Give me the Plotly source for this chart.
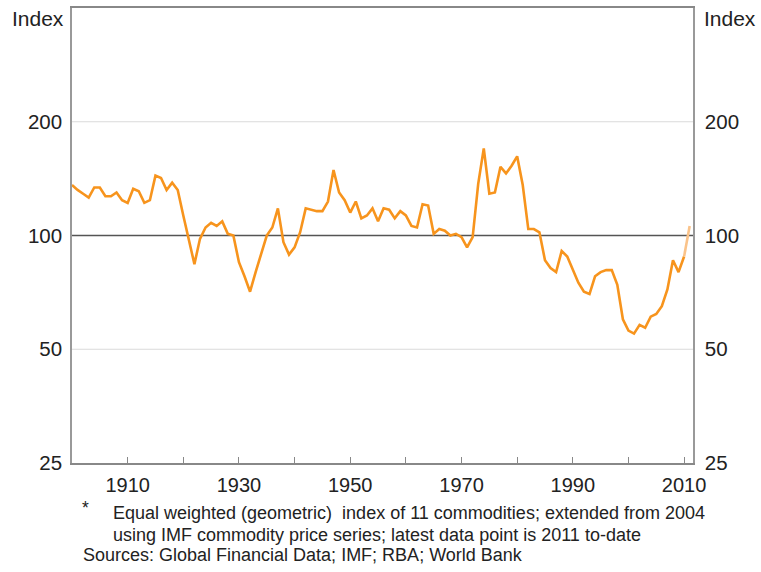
import math
import plotly.graph_objects as go

# annual commodity price index (1900 = start, latest point is 2011 to-date)
years = list(range(1900, 2012))
index_values = [
    136, 132, 129, 126, 134, 134, 127, 127, 130, 124,   # 1900s
    122, 133, 131, 122, 124, 144, 142, 132, 138, 132,   # 1910s
    113, 97, 84, 98, 105, 108, 106, 109, 101, 100,      # 1920s
    85, 78, 71, 80, 90, 100, 105, 118, 96, 89,          # 1930s
    93, 102, 118, 117, 116, 116, 123, 149, 130, 124,    # 1940s
    115, 123, 111, 113, 118, 109, 118, 117, 111, 116,   # 1950s
    113, 106, 105, 121, 120, 101, 104, 103, 100, 101,   # 1960s
    99, 93, 99, 137, 170, 129, 130, 152, 146, 153,      # 1970s
    162, 136, 104, 104, 102, 86, 82, 80, 91, 88,        # 1980s
    81, 75, 71, 70, 78, 80, 81, 81, 74, 60,             # 1990s
    56, 55, 58, 57, 61, 62, 65, 72, 86, 80,             # 2000s
    88, 106,                                            # 2010-2011
]

y_ticks = [25, 50, 100, 200]
grid_levels = [50, 200]
base_level = 100
x_ticks = list(range(1910, 2011, 10))
x_labels = [str(y) if (y - 1910) % 20 == 0 else "" for y in x_ticks]

footnote_1 = "Equal weighted (geometric)  index of 11 commodities; extended from 2004"
footnote_2 = "using IMF commodity price series; latest data point is 2011 to-date"
sources = "Sources: Global Financial Data; IMF; RBA; World Bank"

ORANGE = "#F7941D"
LIGHT_ORANGE = "#FAC38A"
FONT = "Liberation Sans, Arial, sans-serif"

fig = go.Figure()

# full history
fig.add_trace(go.Scatter(
    x=years[:-1], y=index_values[:-1],
    mode="lines", line=dict(color=ORANGE, width=2.6),
    hoverinfo="skip",
))
# latest (partial-year) segment in a lighter shade
fig.add_trace(go.Scatter(
    x=years[-2:], y=index_values[-2:],
    mode="lines", line=dict(color=LIGHT_ORANGE, width=2.6),
    hoverinfo="skip",
))
# invisible copy so the right-hand axis gets drawn
fig.add_trace(go.Scatter(
    x=years, y=index_values, yaxis="y2",
    mode="lines", line=dict(color="rgba(0,0,0,0)", width=0),
    hoverinfo="skip",
))

# horizontal gridlines (light) and the 100 base line (dark), under the series
for lvl in grid_levels:
    fig.add_hline(y=lvl, line=dict(color="#DADADA", width=1.2), layer="below")
fig.add_hline(y=base_level, line=dict(color="#555555", width=1.5), layer="below")

y_range = [math.log10(25), math.log10(400)]

fig.update_layout(
    width=761, height=572,
    margin=dict(l=72, r=68, t=6, b=109),
    paper_bgcolor="white", plot_bgcolor="white",
    showlegend=False,
    font=dict(family=FONT, size=20, color="#222222"),
    xaxis=dict(
        range=[1900, 2011.6],
        tickvals=x_ticks, ticktext=x_labels,
        ticks="inside", ticklen=6, tickcolor="#888888", tickwidth=1.2,
        showgrid=False, zeroline=False,
        showline=True, linecolor="#888888", linewidth=1.5, mirror=True,
        ticklabelstandoff=3,
        tickfont=dict(size=20),
    ),
    yaxis=dict(
        type="log", range=y_range,
        tickvals=y_ticks, ticktext=[str(v) for v in y_ticks],
        showgrid=False, zeroline=False,
        showline=True, linecolor="#999999", linewidth=1.5,
        ticks="", ticklabelstandoff=4,
        tickfont=dict(size=20.5),
    ),
    yaxis2=dict(
        type="log", range=y_range, overlaying="y", side="right",
        tickvals=y_ticks, ticktext=[str(v) for v in y_ticks],
        showgrid=False, zeroline=False,
        showline=True, linecolor="#999999", linewidth=1.5,
        ticks="", ticklabelstandoff=6,
        tickfont=dict(size=20.5),
    ),
)

# unit labels above both axes
fig.add_annotation(text="Index", xref="paper", yref="paper", x=0, y=1,
                   xanchor="right", yanchor="middle", xshift=-6, yshift=-10,
                   showarrow=False, font=dict(size=21))
fig.add_annotation(text="Index", xref="paper", yref="paper", x=1, y=1,
                   xanchor="left", yanchor="middle", xshift=9, yshift=-10,
                   showarrow=False, font=dict(size=21))

# footnotes
plot_h = 572 - 6 - 109
def paper_y(px):
    return (572 - 109 - px) / plot_h

fig.add_annotation(text="*", xref="paper", yref="paper", x=0, y=paper_y(508),
                   xanchor="left", yanchor="middle", xshift=8,
                   showarrow=False, font=dict(size=17.5))
fig.add_annotation(text=footnote_1, xref="paper", yref="paper", x=0, y=paper_y(513),
                   xanchor="left", yanchor="middle", xshift=39,
                   showarrow=False, font=dict(size=18))
fig.add_annotation(text=footnote_2, xref="paper", yref="paper", x=0, y=paper_y(535),
                   xanchor="left", yanchor="middle", xshift=39,
                   showarrow=False, font=dict(size=18))
fig.add_annotation(text=sources, xref="paper", yref="paper", x=0, y=paper_y(555),
                   xanchor="left", yanchor="middle", xshift=9,
                   showarrow=False, font=dict(size=18))

fig.write_html("out.html", config={"displayModeBar": False},
               post_script="document.body.style.margin='0';")
